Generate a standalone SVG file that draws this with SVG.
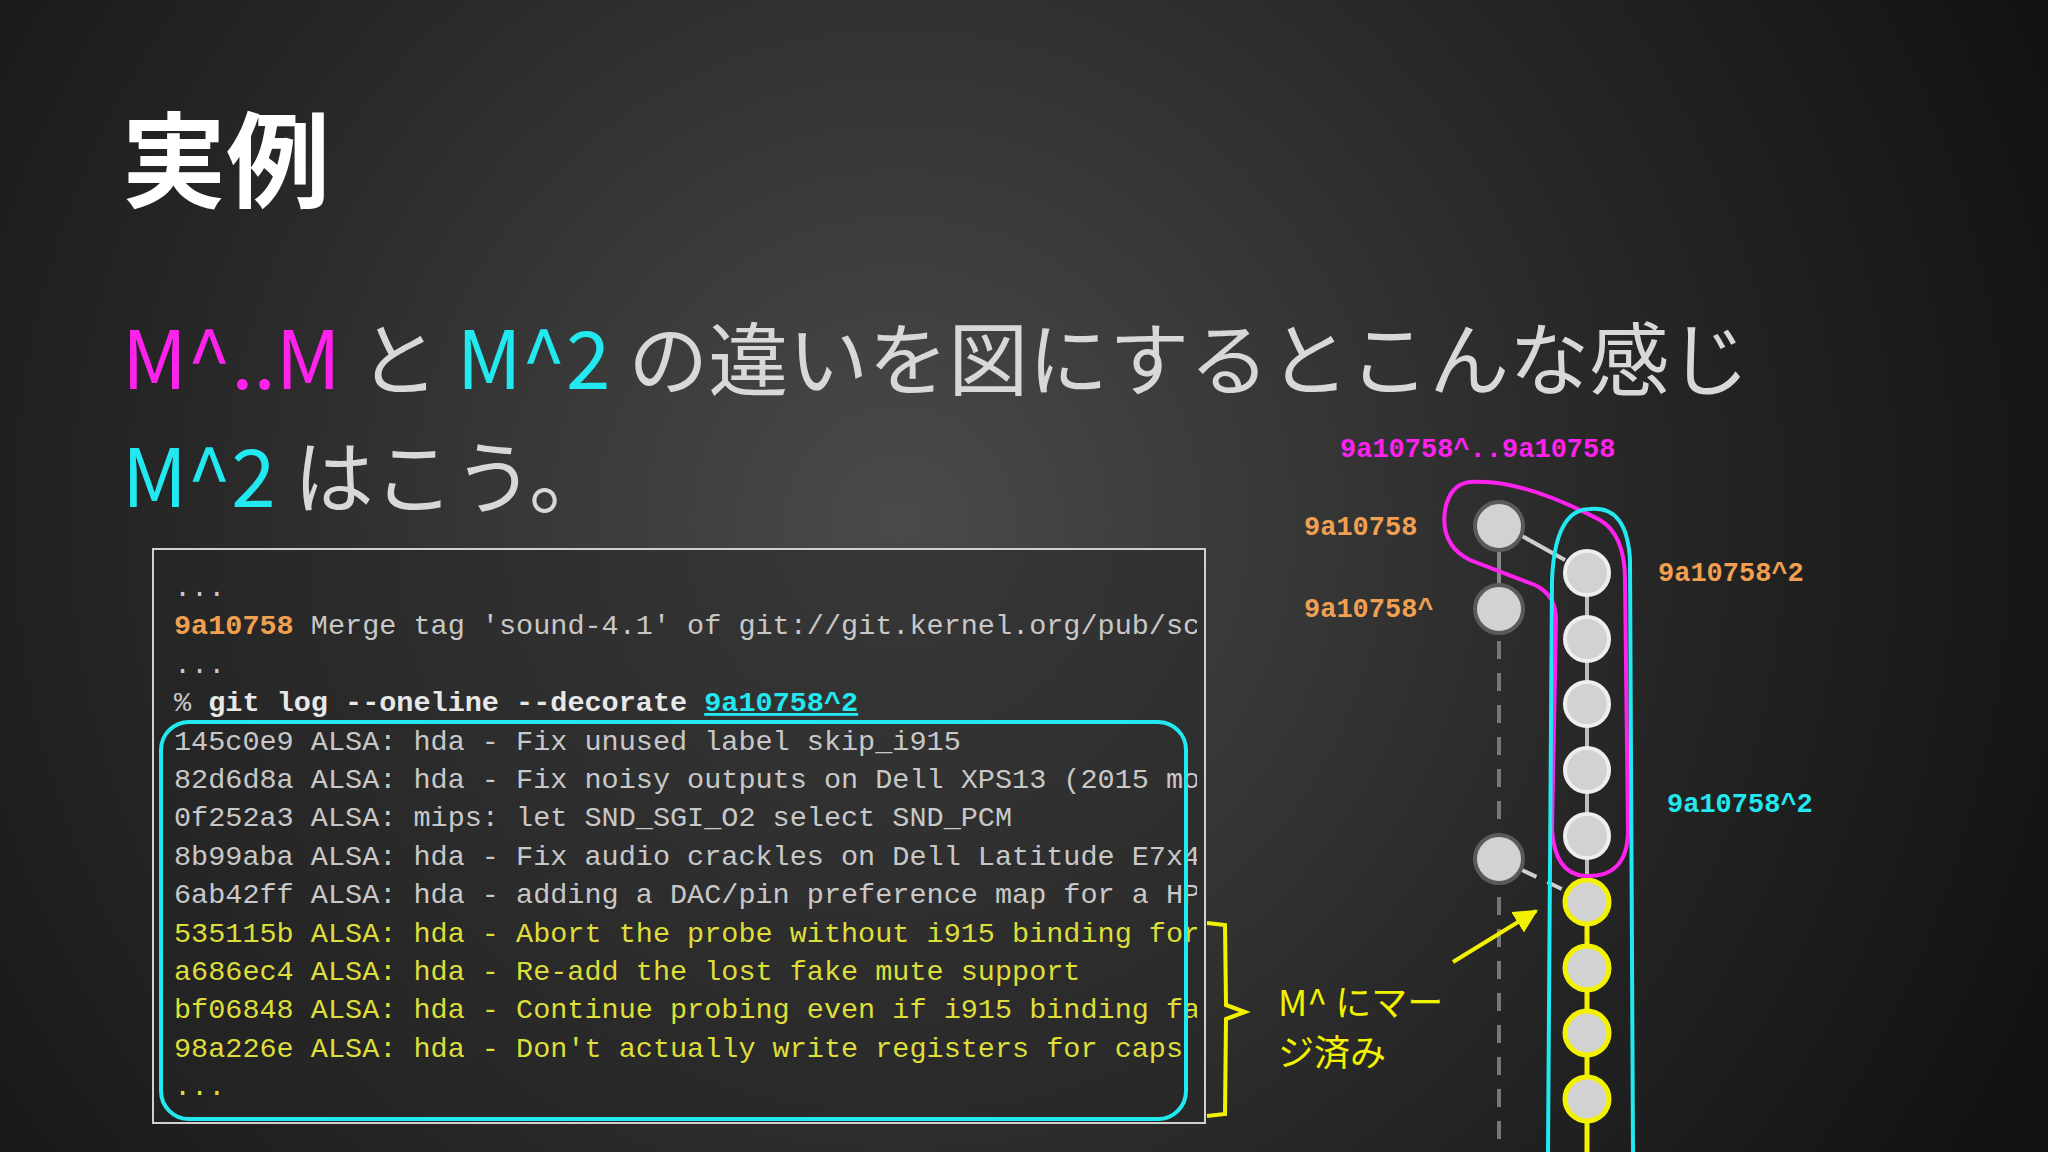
<svg xmlns="http://www.w3.org/2000/svg" width="2048" height="1152" viewBox="0 0 2048 1152">
<defs>
<radialGradient id="bg" cx="900" cy="520" r="1250" gradientUnits="userSpaceOnUse">
<stop offset="0" stop-color="#4a4a4a"/><stop offset="0.6" stop-color="#262626"/><stop offset="1" stop-color="#121212"/>
</radialGradient>
<clipPath id="term"><rect x="153" y="549" width="1044" height="576"/></clipPath>
<marker id="ya" viewBox="0 0 10 10" refX="9" refY="5" markerWidth="6" markerHeight="6" orient="auto"><path d="M0,0 L10,5 L0,10 Z" fill="#f2f200"/></marker>
<style>
.sans{font-family:"Noto Sans CJK JP","Noto Sans",sans-serif}
.mono{font-family:"Liberation Mono","DejaVu Sans Mono",monospace;font-size:28.5px;fill:#c8c8c8}
.y{fill:#dede3a}
.lab{font-family:"Liberation Mono",monospace;font-weight:bold;font-size:27px}
.gn{fill:#d2d2d2;stroke:#5a5a5a;stroke-width:4}
.rn{fill:#d2d2d2;stroke:#eeeeee;stroke-width:4}
.yn{fill:#d2d2d2;stroke:#f2f200;stroke-width:5}
</style>
</defs>
<rect width="2048" height="1152" fill="url(#bg)"/>
<text class="sans" x="122" y="200" font-size="104" font-weight="bold" fill="#ffffff">実例</text>
<text class="sans" x="122" y="389" font-size="80" fill="#d8d8d8"><tspan fill="#ff22ee">M^..M</tspan> と <tspan fill="#22e8f0">M^2</tspan> の違いを図にするとこんな感じ</text>
<text class="sans" x="122" y="507" font-size="80" fill="#d8d8d8"><tspan fill="#22e8f0">M^2</tspan> はこう。</text>

<g id="terminal">
<rect x="153" y="549" width="1052" height="574" fill="#262626" fill-opacity="0.5" stroke="#d0d0d0" stroke-width="2"/>
<g clip-path="url(#term)">
<text class="mono" x="174" y="596">...</text>
<text class="mono" x="174" y="634"><tspan fill="#f0a050" font-weight="bold">9a10758</tspan> Merge tag 'sound-4.1' of git://git.kernel.org/pub/sc</text>
<text class="mono" x="174" y="673">...</text>
<text class="mono" x="174" y="711">% <tspan font-weight="bold" fill="#e8e8e8">git log --oneline --decorate</tspan> <tspan font-weight="bold" fill="#22e8f0" text-decoration="underline">9a10758^2</tspan></text>
<text class="mono" x="174" y="750">145c0e9 ALSA: hda - Fix unused label skip_i915</text>
<text class="mono" x="174" y="788">82d6d8a ALSA: hda - Fix noisy outputs on Dell XPS13 (2015 mo</text>
<text class="mono" x="174" y="826">0f252a3 ALSA: mips: let SND_SGI_O2 select SND_PCM</text>
<text class="mono" x="174" y="865">8b99aba ALSA: hda - Fix audio crackles on Dell Latitude E7x4</text>
<text class="mono" x="174" y="903">6ab42ff ALSA: hda - adding a DAC/pin preference map for a HP</text>
<text class="mono y" x="174" y="942">535115b ALSA: hda - Abort the probe without i915 binding for</text>
<text class="mono y" x="174" y="980">a686ec4 ALSA: hda - Re-add the lost fake mute support</text>
<text class="mono y" x="174" y="1018">bf06848 ALSA: hda - Continue probing even if i915 binding fa</text>
<text class="mono y" x="174" y="1057">98a226e ALSA: hda - Don't actually write registers for caps</text>
<text class="mono y" x="174" y="1095">...</text>
</g>
<rect x="161" y="722" width="1025" height="397" rx="28" fill="none" stroke="#22e8f0" stroke-width="4"/>
<path d="M1207,923 L1225,925 L1226,1005 L1245,1012 L1226,1019 L1225,1114 L1207,1116" fill="none" stroke="#f2f200" stroke-width="4"/>
</g>

<g id="connectors">
<line x1="1499" y1="526" x2="1499" y2="609" stroke="#888" stroke-width="4"/>
<line x1="1499" y1="609" x2="1499" y2="1152" stroke="#777" stroke-width="4" stroke-dasharray="18,14"/>
<line x1="1522" y1="536" x2="1565" y2="560" stroke="#cfcfcf" stroke-width="4"/>
<line x1="1522" y1="870" x2="1566" y2="891" stroke="#cfcfcf" stroke-width="4" stroke-dasharray="16,12"/>
<line x1="1587" y1="573" x2="1587" y2="902" stroke="#bdbdbd" stroke-width="4"/>
<line x1="1587" y1="902" x2="1587" y2="1152" stroke="#f2f200" stroke-width="5"/>
<line x1="1453" y1="962" x2="1536" y2="911" stroke="#f2f200" stroke-width="4" marker-end="url(#ya)"/>
</g>

<g id="nodes">
<circle class="gn" cx="1499" cy="526" r="24"/>
<circle class="gn" cx="1499" cy="609" r="24"/>
<circle class="gn" cx="1499" cy="859" r="24"/>
<circle class="rn" cx="1587" cy="573" r="22"/>
<circle class="rn" cx="1587" cy="639" r="22"/>
<circle class="rn" cx="1587" cy="704" r="22"/>
<circle class="rn" cx="1587" cy="770" r="22"/>
<circle class="rn" cx="1587" cy="836" r="22"/>
<circle class="yn" cx="1587" cy="902" r="22"/>
<circle class="yn" cx="1587" cy="968" r="22"/>
<circle class="yn" cx="1587" cy="1033" r="22"/>
<circle class="yn" cx="1587" cy="1099" r="22"/>
</g>

<g id="outlines" fill="none" stroke-width="4">
<path d="M1470,482 Q1520,478 1600,520 Q1625,535 1625,580 L1628,830 Q1628,878 1585,876 Q1555,874 1552,830 L1556,620 Q1556,595 1535,585 L1470,560 Q1440,545 1445,510 Q1450,484 1470,482 Z" stroke="#ff22ee"/>
<path d="M1548,1152 L1552,580 Q1555,509 1590,509 Q1627,505 1630,560 L1633,1152" stroke="#22e8f0"/>
</g>

<g id="labels">
<text class="lab" x="1340" y="457" fill="#ff22ee">9a10758^..9a10758</text>
<text class="lab" x="1304" y="535" fill="#f0a050">9a10758</text>
<text class="lab" x="1304" y="617" fill="#f0a050">9a10758^</text>
<text class="lab" x="1658" y="581" fill="#f0a050">9a10758^2</text>
<text class="lab" x="1667" y="812" fill="#22e8f0">9a10758^2</text>
<text class="sans" x="1278" y="1016" font-size="36" fill="#f2f200">M^ にマー</text>
<text class="sans" x="1278" y="1066" font-size="36" fill="#f2f200">ジ済み</text>
</g>
</svg>
